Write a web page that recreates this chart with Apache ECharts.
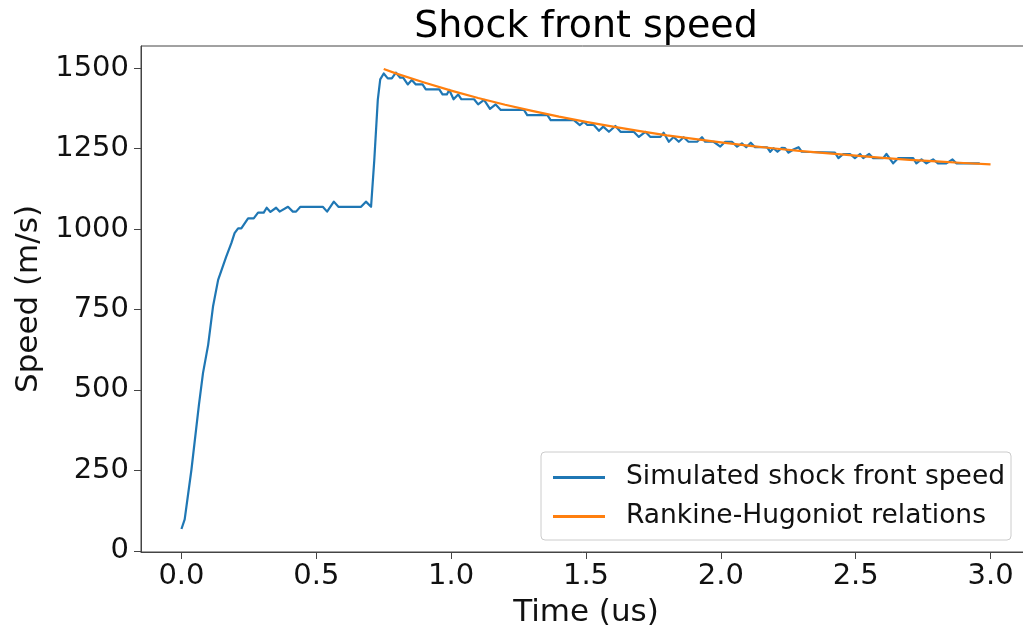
<!DOCTYPE html>
<html>
<head>
<meta charset="utf-8">
<script src="https://cdn.jsdelivr.net/npm/echarts@6/dist/echarts.min.js"></script>
<style>
html,body{margin:0;padding:0;background:#fff;}
#chart{width:1023px;height:632px;}
</style>
</head>
<body>
<div id="chart"></div>
<script>
const titleText = 'Shock front speed';
const xAxisName = 'Time (us)';
const yAxisName = 'Speed (m/s)';
const seriesNames = ['Simulated shock front speed', 'Rankine-Hugoniot relations'];

const xTicks = [0.0, 0.5, 1.0, 1.5, 2.0, 2.5, 3.0];
const yTicks = [0, 250, 500, 750, 1000, 1250, 1500];

const simTime = [
  0.000, 0.012, 0.037, 0.065, 0.080, 0.099, 0.117, 0.136, 0.166, 0.185, 0.197, 0.210, 0.222,
  0.247, 0.268, 0.284, 0.305, 0.316, 0.330, 0.351, 0.364, 0.395, 0.413, 0.425, 0.441, 0.524,
  0.540, 0.565, 0.582, 0.666, 0.684, 0.703, 0.715, 0.728, 0.737, 0.750, 0.765, 0.780, 0.795,
  0.811, 0.822, 0.839, 0.854, 0.869, 0.894, 0.906, 0.956, 0.968, 0.984, 0.993, 1.009, 1.026,
  1.038, 1.085, 1.100, 1.122, 1.144, 1.165, 1.184, 1.270, 1.282, 1.357, 1.369, 1.455, 1.477,
  1.492, 1.505, 1.529, 1.548, 1.564, 1.585, 1.609, 1.628, 1.677, 1.696, 1.720, 1.739, 1.776,
  1.788, 1.807, 1.825, 1.844, 1.862, 1.880, 1.912, 1.930, 1.942, 1.973, 1.998, 2.016, 2.041,
  2.060, 2.078, 2.094, 2.111, 2.127, 2.171, 2.183, 2.195, 2.210, 2.226, 2.238, 2.251, 2.269,
  2.288, 2.300, 2.423, 2.436, 2.454, 2.479, 2.497, 2.516, 2.528, 2.550, 2.565, 2.602, 2.614,
  2.639, 2.657, 2.713, 2.725, 2.744, 2.762, 2.787, 2.805, 2.836, 2.859, 2.873, 2.960
];
const simSpeed = [
  68, 98, 252, 455, 553, 640, 759, 842, 914, 956, 987, 1002, 1002,
  1033, 1033, 1051, 1051, 1066, 1053, 1066, 1054, 1069, 1054, 1054, 1069, 1069,
  1054, 1085, 1069, 1069, 1085, 1069, 1214, 1401, 1465, 1483, 1468, 1468, 1486,
  1470, 1470, 1449, 1463, 1449, 1449, 1434, 1434, 1418, 1418, 1432, 1403, 1418,
  1403, 1403, 1387, 1401, 1373, 1387, 1370, 1370, 1354, 1354, 1338, 1338, 1323,
  1333, 1323, 1323, 1305, 1318, 1302, 1320, 1302, 1302, 1286, 1302, 1286, 1286,
  1299, 1271, 1286, 1271, 1285, 1271, 1271, 1285, 1271, 1271, 1256, 1271, 1271,
  1256, 1266, 1254, 1268, 1254, 1254, 1240, 1251, 1240, 1252, 1251, 1237, 1247,
  1254, 1240, 1237, 1220, 1233, 1233, 1220, 1233, 1220, 1233, 1220, 1220, 1233,
  1204, 1220, 1220, 1204, 1216, 1204, 1216, 1204, 1204, 1216, 1204, 1204
];

const rhTime = [0.75, 0.80, 0.90, 1.00, 1.10, 1.20, 1.30, 1.40, 1.50, 1.60, 1.70, 1.80,
                1.90, 2.00, 2.10, 2.20, 2.30, 2.40, 2.50, 2.60, 2.70, 2.80, 2.90, 3.00];
const rhSpeed = [1497, 1482, 1455, 1430, 1407, 1386, 1367, 1349, 1333, 1318, 1304, 1291,
                 1280, 1269, 1259, 1250, 1242, 1235, 1228, 1221, 1215, 1210, 1205, 1201];

const simData = simTime.map((t, i) => [t, simSpeed[i]]);
const rhData = rhTime.map((t, i) => [t, rhSpeed[i]]);

const FONT = 'DejaVu Sans';
const chart = echarts.init(document.getElementById('chart'), null, {renderer: 'canvas'});
chart.setOption({
  animation: false,
  backgroundColor: '#fff',
  textStyle: {fontFamily: FONT},
  title: {
    text: titleText,
    left: 586,
    textAlign: 'center',
    top: 8,
    padding: 0,
    textStyle: {fontFamily: FONT, fontSize: 38, fontWeight: 'normal', color: '#000'}
  },
  grid: {
    left: 141, top: 46, width: 890, bottom: 80,
    outerBoundsMode: 'none',
    containLabel: false,
    show: true, borderColor: '#444', borderWidth: 1, backgroundColor: 'transparent'
  },
  xAxis: {
    type: 'value',
    min: -0.15, max: 3.15,
    name: xAxisName,
    nameLocation: 'middle',
    nameGap: 45,
    nameTextStyle: {fontFamily: FONT, fontSize: 31, color: '#111'},
    axisLine: {show: true, onZero: false, lineStyle: {color: '#444', width: 1}},
    axisTick: {show: true, customValues: xTicks, length: 7, lineStyle: {color: '#444'}},
    axisLabel: {customValues: xTicks, margin: 10, fontFamily: FONT, fontSize: 29, color: '#111',
                formatter: v => Number(v).toFixed(1)},
    splitLine: {show: false}
  },
  yAxis: {
    type: 'value',
    min: -3.5, max: 1568.5,
    name: yAxisName,
    nameLocation: 'middle',
    nameGap: 96,
    nameTextStyle: {fontFamily: FONT, fontSize: 31, color: '#111'},
    axisLine: {show: true, onZero: false, lineStyle: {color: '#444', width: 1}},
    axisTick: {show: true, customValues: yTicks, length: 7, lineStyle: {color: '#444'}},
    axisLabel: {customValues: yTicks, margin: 12, fontFamily: FONT, fontSize: 29, color: '#111',
                formatter: v => String(Math.round(v))},
    splitLine: {show: false}
  },
  legend: {
    orient: 'vertical',
    left: 541, top: 452,
    padding: [12, 6, 10, 12],
    itemGap: 12,
    itemWidth: 52, itemHeight: 3,
    icon: 'rect',
    backgroundColor: 'rgba(255,255,255,0.8)',
    borderColor: '#ccc', borderWidth: 1, borderRadius: 4,
    textStyle: {fontFamily: FONT, fontSize: 26.5, lineHeight: 27, color: '#111', padding: [0, 0, 0, 16]},
    data: seriesNames
  },
  series: [
    {
      name: seriesNames[0], type: 'line', data: simData, showSymbol: false, symbol: 'none',
      color: '#1f77b4', lineStyle: {width: 2.2, color: '#1f77b4', join: 'round'}, z: 2
    },
    {
      name: seriesNames[1], type: 'line', data: rhData, showSymbol: false, symbol: 'none',
      color: '#ff7f0e', lineStyle: {width: 2.2, color: '#ff7f0e', join: 'round'}, z: 3
    }
  ]
});
</script>
</body>
</html>
